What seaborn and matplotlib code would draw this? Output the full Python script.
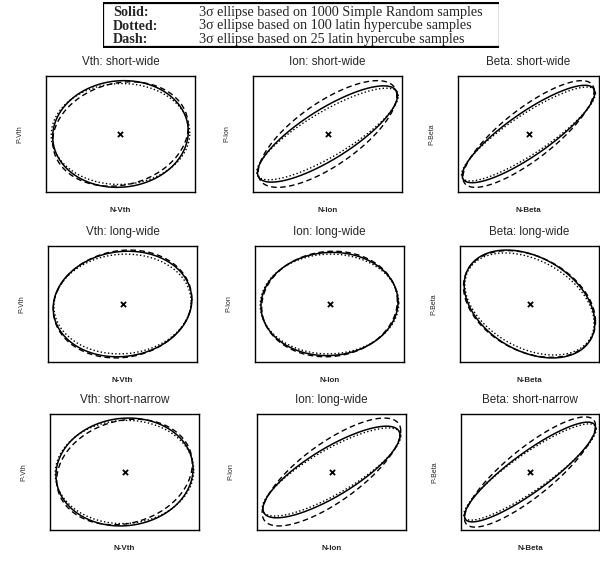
import numpy as np
import matplotlib
matplotlib.use("Agg")
import matplotlib.pyplot as plt
import seaborn as sns

# panel texts (row by row)
TITLES = ["Vth: short-wide", "Ion: short-wide", "Beta: short-wide",
          "Vth: long-wide", "Ion: long-wide", "Beta: long-wide",
          "Vth: short-narrow", "Ion: long-wide", "Beta: short-narrow"]
X_LABELS = ["N-Vth", "N-Ion", "N-Beta"] * 3
Y_LABELS = ["P-Vth", "P-Ion", "P-Beta"] * 3

# 3-sigma half extents of each ellipse (axes run -1..1) and correlation
SOLID_EX = [0.91, 0.94, 0.94, 0.93, 0.92, 0.94, 0.92, 0.92, 0.95]
SOLID_EY = [0.92, 0.83, 0.84, 0.91, 0.89, 0.93, 0.93, 0.79, 0.86]
SOLID_RHO = [0.05, 0.80, 0.85, 0.08, 0.04, -0.35, 0.06, 0.80, 0.88]

DOTTED_EX = [0.93, 0.95, 0.95, 0.92, 0.93, 0.93, 0.93, 0.93, 0.96]
DOTTED_EY = [0.87, 0.79, 0.81, 0.86, 0.86, 0.88, 0.89, 0.76, 0.83]
DOTTED_RHO = [0.02, 0.83, 0.87, 0.05, 0.02, -0.38, 0.03, 0.82, 0.89]

DASH_EX = [0.91, 0.93, 0.93, 0.93, 0.91, 0.95, 0.91, 0.93, 0.95]
DASH_EY = [0.90, 0.92, 0.92, 0.93, 0.91, 0.92, 0.91, 0.93, 0.95]
DASH_RHO = [0.15, 0.72, 0.81, 0.10, 0.06, -0.33, 0.16, 0.76, 0.84]

CENTER_X = [0.0] * 9
CENTER_Y = [0.0] * 9

LEGEND_NAMES = ["Solid:", "Dotted:", "Dash:"]
LEGEND_TEXT = ["3\u03c3 ellipse based on 1000 Simple Random samples",
               "3\u03c3 ellipse based on 100 latin hypercube samples",
               "3\u03c3 ellipse based on 25 latin hypercube samples"]

W, H = 600, 564


def ellipse(cx, cy, ex, ey, rho, n=400):
    t = np.linspace(0, 2 * np.pi, n)
    x = cx + ex * np.cos(t)
    y = cy + ey * (rho * np.cos(t) + np.sqrt(1 - rho ** 2) * np.sin(t))
    return x, y


def rect(x0, y0, w, h):
    return [x0 / W, 1 - (y0 + h) / H, w / W, h / H]


sns.set_theme(style="white")
plt.rcParams["font.family"] = ["Liberation Sans", "DejaVu Sans"]

fig = plt.figure(figsize=(6, 5.64), dpi=100)

# legend box at the top
bw, bh = 396, 46
lax = fig.add_axes(rect(103, 2, bw, bh))
lax.set_xlim(0, bw)
lax.set_ylim(bh, 0)
lax.set_xticks([])
lax.set_yticks([])
for s in lax.spines.values():
    s.set_visible(False)
lax.axhline(0.8, color="black", lw=1.6)
lax.axhline(bh - 0.8, color="black", lw=1.6)
lax.axvline(0.4, color="black", lw=0.9)
lax.axvline(bw - 0.4, color="black", lw=0.9)
for i, (name, txt) in enumerate(zip(LEGEND_NAMES, LEGEND_TEXT)):
    yy = 10.5 + i * 13.5
    lax.text(10, yy, name, family="Liberation Serif", weight="bold",
             fontsize=10.2, va="center", ha="left")
    lax.text(96, yy, txt, family="Liberation Serif", fontsize=10.2,
             va="center", ha="left")

col_left = [[46, 253, 458], [48, 255, 460], [50, 257, 461]]
row_top = [76, 246, 414]
box_h = 116

styles = [("-", 1.1, SOLID_EX, SOLID_EY, SOLID_RHO),
          (":", 1.0, DOTTED_EX, DOTTED_EY, DOTTED_RHO),
          ((0, (4, 2.5)), 1.0, DASH_EX, DASH_EY, DASH_RHO)]

for k in range(9):
    r, c = divmod(k, 3)
    x0 = col_left[r][c]
    w = 149 if c < 2 else 599 - x0
    ax = fig.add_axes(rect(x0, row_top[r], w, box_h))
    for ls, lw, ex, ey, rho in styles:
        x, y = ellipse(CENTER_X[k], CENTER_Y[k], ex[k], ey[k], rho[k])
        sns.lineplot(x=x, y=y, sort=False, estimator=None, color="black",
                     linestyle=ls, linewidth=lw, ax=ax)
    sns.scatterplot(x=[CENTER_X[k]], y=[CENTER_Y[k]], marker="x", s=14,
                    color="black", linewidth=1.3, ax=ax)
    ax.set_xlim(-1, 1)
    ax.set_ylim(-1, 1)
    ax.set_xticks([])
    ax.set_yticks([])
    for s in ax.spines.values():
        s.set_color("black")
        s.set_linewidth(1.0)
    ax.set_title(TITLES[k], fontsize=8.4, pad=8)
    ax.set_xlabel(X_LABELS[k], fontsize=5.8, weight="bold", labelpad=11)
    ax.set_ylabel(Y_LABELS[k], fontsize=5, labelpad=16)

fig.savefig("out.png", dpi=100, facecolor="white")
